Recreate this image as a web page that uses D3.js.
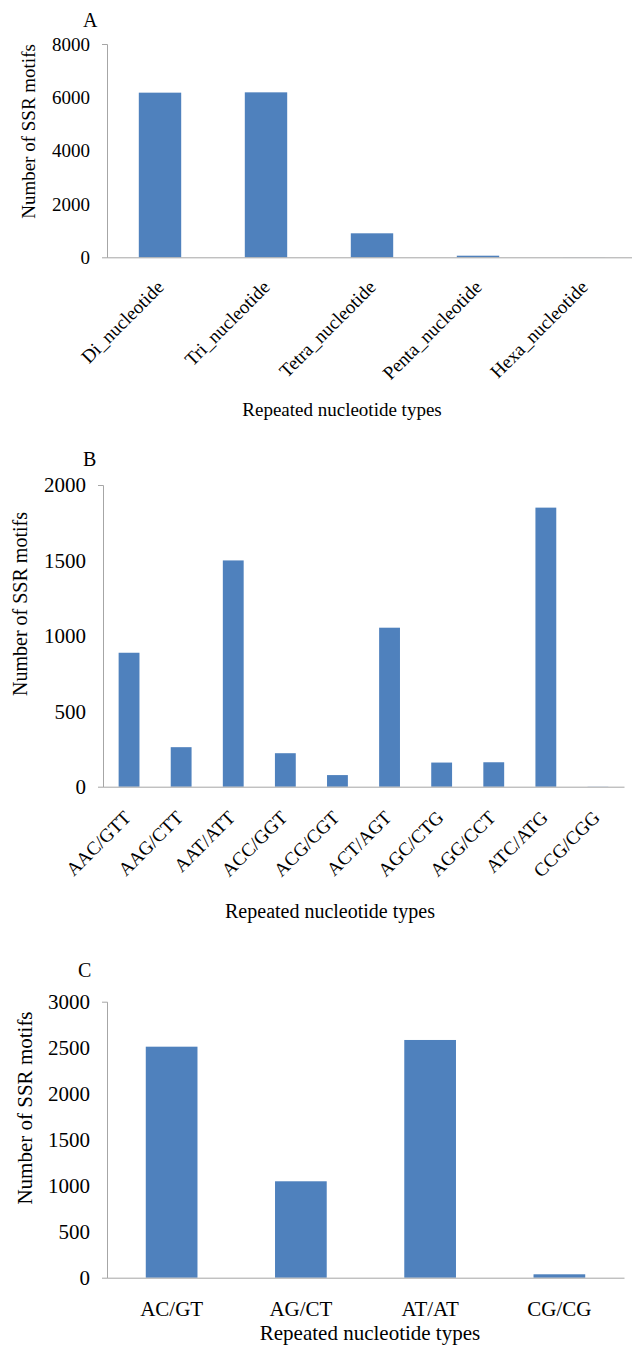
<!DOCTYPE html>
<html>
<head>
<meta charset="utf-8">
<script src="https://cdn.jsdelivr.net/npm/d3@7"></script>
<style>
  body { margin: 0; background: #fff; }
  svg text { font-family: "Liberation Serif", "Times New Roman", serif; fill: #000; }
</style>
</head>
<body>
<svg id="chart" width="632" height="1349"></svg>
<script>
// panel A - repeat unit length
const typeCats = ['Di_nucleotide', 'Tri_nucleotide', 'Tetra_nucleotide', 'Penta_nucleotide', 'Hexa_nucleotide'];
const typeCounts = [6175, 6187, 900, 60, 2];
const typeTicks = [0, 2000, 4000, 6000, 8000];

// panel B - trinucleotide motifs
const triCats = ['AAC/GTT', 'AAG/CTT', 'AAT/ATT', 'ACC/GGT', 'ACG/CGT', 'ACT/AGT', 'AGC/CTG', 'AGG/CCT', 'ATC/ATG', 'CCG/CGG'];
const triCounts = [888, 262, 1500, 222, 77, 1054, 160, 162, 1850, 1];
const triTicks = [0, 500, 1000, 1500, 2000];

// panel C - dinucleotide motifs
const diCats = ['AC/GT', 'AG/CT', 'AT/AT', 'CG/CG'];
const diCounts = [2511, 1048, 2584, 37];
const diTicks = [0, 500, 1000, 1500, 2000, 2500, 3000];

const svg = d3.select('#chart');
const barColor = '#4f81bd', axisColor = '#a6a6a6';
const serif = '"Liberation Serif", "Times New Roman", serif';

function drawPanel(p) {
  const g = svg.append('g');
  const x_scale = d3.scaleBand().domain(p.cats).range([p.x0, p.x1]).paddingInner(0.6).paddingOuter(0.3);
  const y_scale = d3.scaleLinear().domain([0, d3.max(p.ticks)]).range([p.yBottom, p.yTop]);

  // bars
  g.selectAll('rect').data(p.cats.map((c, i) => ({cat: c, val: p.vals[i]}))).join('rect')
    .attr('x', d => x_scale(d.cat))
    .attr('y', d => y_scale(d.val))
    .attr('width', x_scale.bandwidth())
    .attr('height', d => p.yBottom - y_scale(d.val))
    .attr('fill', barColor);

  // y axis
  const yAxis = g.append('g').attr('transform', `translate(${p.x0},0)`)
    .call(d3.axisLeft(y_scale).tickValues(p.ticks).tickSizeInner(0).tickSizeOuter(5).tickPadding(17).tickFormat(d3.format('d')))
    .attr('font-family', serif);
  yAxis.select('.domain').attr('stroke', axisColor);
  yAxis.selectAll('text').style('font-size', p.tickFont + 'px').attr('dy', '0.33em');

  // x axis
  const xAxis = g.append('g').attr('transform', `translate(0,${p.yBottom})`)
    .call(d3.axisBottom(x_scale).tickSize(0).tickSizeOuter(0))
    .attr('font-family', serif);
  xAxis.select('.domain').attr('stroke', axisColor);
  const xt = xAxis.selectAll('text').style('font-size', p.catFont + 'px');
  if (p.rotate) {
    xt.attr('text-anchor', 'end').attr('x', 0).attr('y', 0).attr('dy', 0)
      .attr('transform', `translate(${p.labDx},${p.labDy}) rotate(-45)`);
  } else {
    xt.attr('y', p.labDy).attr('dy', 0);
  }

  // titles
  g.append('text').attr('x', p.letterX).attr('y', p.letterY).style('font-size', '20px').text(p.letter);
  g.append('text').attr('transform', `translate(${p.yTitleX},${p.yTitleY}) rotate(-90)`)
    .attr('text-anchor', 'middle').style('font-size', p.titleFont + 'px').text('Number of SSR motifs');
  g.append('text').attr('x', p.xTitleX).attr('y', p.xTitleY)
    .attr('text-anchor', 'middle').style('font-size', p.titleFont + 'px').text('Repeated nucleotide types');
}

drawPanel({cats: typeCats, vals: typeCounts, ticks: typeTicks,
  x0: 107, x1: 637, yTop: 44, yBottom: 257.3,
  tickFont: 19, catFont: 19, titleFont: 19, rotate: true, labDx: 5, labDy: 31,
  letter: 'A', letterX: 83, letterY: 27,
  yTitleX: 35, yTitleY: 131.5, xTitleX: 342, xTitleY: 416});

drawPanel({cats: triCats, vals: triCounts, ticks: triTicks,
  x0: 103, x1: 624, yTop: 485, yBottom: 786.7,
  tickFont: 21, catFont: 19, titleFont: 20, rotate: true, labDx: 3, labDy: 32,
  letter: 'B', letterX: 83, letterY: 466,
  yTitleX: 27, yTitleY: 604, xTitleX: 330, xTitleY: 918});

drawPanel({cats: diCats, vals: diCounts, ticks: diTicks,
  x0: 107, x1: 624, yTop: 1001.7, yBottom: 1277.7,
  tickFont: 21, catFont: 21, titleFont: 21, rotate: false, labDy: 38,
  letter: 'C', letterX: 78, letterY: 977,
  yTitleX: 32, yTitleY: 1108, xTitleX: 370, xTitleY: 1340});
</script>
</body>
</html>
